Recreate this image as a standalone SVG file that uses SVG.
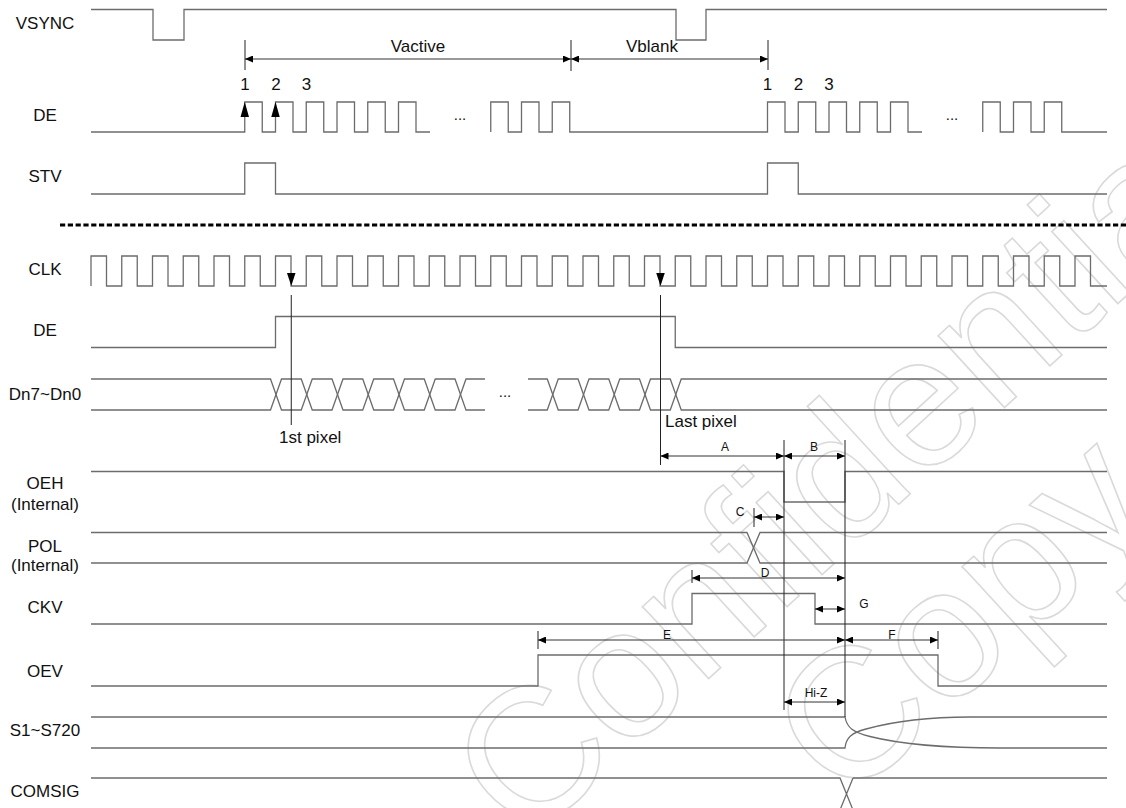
<svg xmlns="http://www.w3.org/2000/svg" width="1126" height="808" viewBox="0 0 1126 808">
<defs>
<style>
.sig{fill:none;stroke:#6c6c6c;stroke-width:1.3}
.ref{fill:none;stroke:#222;stroke-width:1}
.dim{fill:none;stroke:#333;stroke-width:1;marker-start:url(#ah);marker-end:url(#ah)}
text{font-family:"Liberation Sans",Arial,sans-serif;fill:#111}
.lbl{font-size:17px;text-anchor:middle}
.t17{font-size:17px}
.sm{font-size:12px;text-anchor:middle}
.dots{font-size:15px;text-anchor:middle}
.wm{font-size:185px;fill:none;stroke:#dadada;stroke-width:1.6;text-anchor:middle}
.arr{fill:#000}
</style>
<marker id="ah" viewBox="0 0 8 7" refX="8" refY="3.5" markerWidth="8" markerHeight="7" markerUnits="userSpaceOnUse" orient="auto-start-reverse">
<path d="M0,0 L8,3.5 L0,7 z" fill="#000"/>
</marker>
</defs>
<rect width="1126" height="808" fill="#fff"/>

<g id="watermark">
<text class="wm" transform="translate(885,517) rotate(-42.5)">Confidential</text>
<text class="wm" transform="translate(1004,661) rotate(-42.5)">Copy</text>
</g>

<g id="vsync">
<text class="lbl" x="45" y="28.5">VSYNC</text>
<path class="sig" d="M91,9.5 H153 V40 H184 V9.5 H676 V40 H706 V9.5 H1107"/>
</g>

<g id="de-frame">
<text class="lbl" x="45" y="121">DE</text>
<path class="sig" d="M91,132 H244.75 V102 H262.25 V132 H275.5 V102 H293 V132 H306.25 V102 H323.75 V132 H337 V102 H354.5 V132 H367.75 V102 H385.25 V132 H398.5 V102 H416 V132 H430 M490.75,132 V102 H508.25 V132 H521.5 V102 H539 V132 H552.25 V102 H569.75 V132 H767.5 V102 H785 V132 H798.25 V102 H815.75 V132 H829 V102 H846.5 V132 H859.75 V102 H877.25 V132 H890.5 V102 H908 V132 H922 M982.75,132 V102 H1000.25 V132 H1013.5 V102 H1031 V132 H1044.25 V102 H1061.75 V132 H1107"/>
<text class="dots" x="460" y="119.5">...</text>
<text class="dots" x="952" y="119.5">...</text>
<text class="lbl" x="245" y="90">1</text>
<text class="lbl" x="276" y="90">2</text>
<text class="lbl" x="306.5" y="90">3</text>
<text class="lbl" x="767.5" y="90">1</text>
<text class="lbl" x="798.5" y="90">2</text>
<text class="lbl" x="829" y="90">3</text>
<path class="arr" d="M244.75,102 L249,117 L240.5,117 z"/>
<path class="arr" d="M275.5,102 L279.75,117 L271.25,117 z"/>
</g>

<g id="stv">
<text class="lbl" x="45" y="181.5">STV</text>
<path class="sig" d="M91,194 H244.75 V163 H275.5 V194 H767.5 V163 H798.25 V194 H1107"/>
</g>

<g id="separator">
<path d="M60,225 H1126" stroke="#000" stroke-width="3" stroke-dasharray="5.2 2.6" fill="none"/>
</g>

<g id="clk">
<text class="lbl" x="45" y="274.5">CLK</text>
<path class="sig" d="M91,286 V256 H106.5 V286 H121.75 V256 H137.25 V286 H152.5 V256 H168 V286 H183.25 V256 H198.75 V286 H214 V256 H229.5 V286 H244.75 V256 H260.25 V286 H275.5 V256 H291 V286 H306.25 V256 H321.75 V286 H337 V256 H352.5 V286 H367.75 V256 H383.25 V286 H398.5 V256 H414 V286 H429.25 V256 H444.75 V286 H460 V256 H475.5 V286 H490.75 V256 H506.25 V286 H521.5 V256 H537 V286 H552.25 V256 H567.75 V286 H583 V256 H598.5 V286 H613.75 V256 H629.25 V286 H644.5 V256 H660 V286 H675.25 V256 H690.75 V286 H706 V256 H721.5 V286 H736.75 V256 H752.25 V286 H767.5 V256 H783 V286 H798.25 V256 H813.75 V286 H829 V256 H844.5 V286 H859.75 V256 H875.25 V286 H890.5 V256 H906 V286 H921.25 V256 H936.75 V286 H952 V256 H967.5 V286 H982.75 V256 H998.25 V286 H1013.5 V256 H1029 V286 H1044.25 V256 H1059.75 V286 H1075 V256 H1090.5 V286 H1107"/>
<path class="arr" d="M287,273 L295.5,273 L291.25,286 z"/>
<path class="arr" d="M656.25,273 L664.75,273 L660.5,286 z"/>
</g>

<g id="de-line">
<text class="lbl" x="45" y="335.5">DE</text>
<path class="sig" d="M91,347.5 H275.5 V316.5 H675.25 V347.5 H1107"/>
</g>

<g id="data">
<text class="lbl" x="45" y="400">Dn7~Dn0</text>
<path class="sig" d="M91,379 H270.5 L281.5,410 H301.25 L312.25,379 H332 L343,410 H362.75 L373.75,379 H393.5 L404.5,410 H424.25 L435.25,379 H455 L466,410 H485"/>
<path class="sig" d="M91,410 H270.5 L281.5,379 H301.25 L312.25,410 H332 L343,379 H362.75 L373.75,410 H393.5 L404.5,379 H424.25 L435.25,410 H455 L466,379 H485"/>
<path class="sig" d="M528,379 H547.25 L558.25,410 H578 L589,379 H608.75 L619.75,410 H639.5 L650.5,379 H670.25 L681.25,410 H1107"/>
<path class="sig" d="M528,410 H547.25 L558.25,379 H578 L589,410 H608.75 L619.75,379 H639.5 L650.5,410 H670.25 L681.25,379 H1107"/>
<text class="dots" x="505" y="396.5">...</text>
<text class="t17" x="279" y="443">1st pixel</text>
<text class="t17" x="665" y="427">Last pixel</text>
</g>

<g id="oeh">
<text class="lbl" x="45" y="489">OEH</text>
<text class="lbl" x="45" y="509.5">(Internal)</text>
<path class="sig" d="M91,471.5 H784 V502 H845 V471.5 H1107"/>
</g>

<g id="pol">
<text class="lbl" x="45" y="551.5">POL</text>
<text class="lbl" x="45" y="571">(Internal)</text>
<path class="sig" d="M91,532.5 H747 L760,563 H1107"/>
<path class="sig" d="M91,563 H747 L760,532.5 H1107"/>
</g>

<g id="ckv">
<text class="lbl" x="45" y="612.5">CKV</text>
<path class="sig" d="M91,624 H692 V593.5 H815 V624 H1107"/>
</g>

<g id="oev">
<text class="lbl" x="45" y="676.5">OEV</text>
<path class="sig" d="M91,686 H538 V655 H938 V686 H1107"/>
</g>

<g id="source">
<text class="lbl" x="45" y="736">S1~S720</text>
<path class="sig" d="M91,717 H845 C847,728 853,732 870,736.5 C900,744 950,748 1000,748 H1107"/>
<path class="sig" d="M91,748 H845 C846,738 851,733 866,729 C895,721 935,717 970,717 H1107"/>
</g>

<g id="comsig">
<text class="lbl" x="45" y="796.5">COMSIG</text>
<path class="sig" d="M91,778 H840 L853,810 M853,778 H1107 M853,778 L840,810"/>
</g>

<g id="connectors">
<path class="ref" d="M245,40 V70 M571,40 V71 M768,40 V70"/>
<path class="dim" d="M245,59 H571"/>
<path class="dim" d="M571,59 H768"/>
<path class="ref" d="M291.25,295 V425 M660.5,295 V465 M784,440 V710 M845,440 V717 M754,508 V527 M692,570 V583 M538,631 V649 M938,631 V649"/>
<path class="dim" d="M660.5,456 H784"/>
<path class="dim" d="M784,456 H845"/>
<path class="dim" d="M754,517 H784"/>
<path class="dim" d="M692,578 H845"/>
<path class="dim" d="M815,609 H845"/>
<path class="dim" d="M538,640 H845"/>
<path class="dim" d="M845,640 H938"/>
<path class="dim" d="M784,702 H845"/>
<text class="t17" x="418" y="52" text-anchor="middle">Vactive</text>
<text class="t17" x="652" y="52" text-anchor="middle">Vblank</text>
<text class="sm" x="725" y="451">A</text>
<text class="sm" x="814" y="451">B</text>
<text class="sm" x="740" y="516">C</text>
<text class="sm" x="765" y="577">D</text>
<text class="sm" x="864" y="608">G</text>
<text class="sm" x="667" y="639">E</text>
<text class="sm" x="892" y="639">F</text>
<text class="sm" x="816" y="697">Hi-Z</text>
</g>
</svg>
